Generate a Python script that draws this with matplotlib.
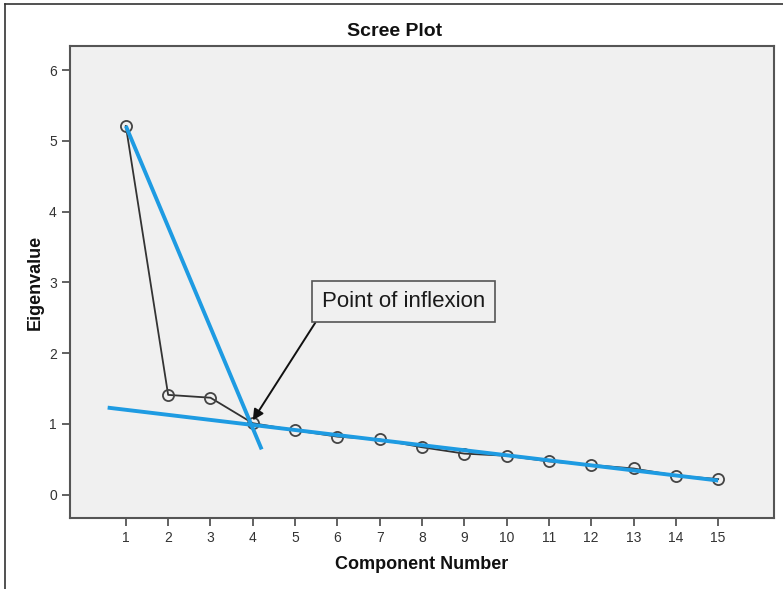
import matplotlib
matplotlib.use("Agg")
import matplotlib.pyplot as plt
from matplotlib.lines import Line2D

plt.rcParams['font.family'] = ['Liberation Sans', 'DejaVu Sans']

components = list(range(1, 16))
eigenvalues = [5.21, 1.41, 1.37, 1.01, 0.91, 0.82, 0.78, 0.67, 0.58, 0.55, 0.47, 0.42, 0.37, 0.27, 0.22]

# the two hand-drawn blue guide lines
steep_x = [1, 4.21]
steep_y = [5.21, 0.64]
flat_x = [0.57, 15]
flat_y = [1.23, 0.20]

blue = '#1e9be2'

fig = plt.figure(figsize=(7.83, 5.89), dpi=100)
ax = fig.add_axes([0.0894, 0.1205, 0.8991, 0.8014])
ax.set_facecolor('#f0f0f0')

ax.plot(components, eigenvalues, color='#333333', lw=1.3, marker='o', ms=8,
        mfc='none', mec='#444444', mew=1.3, zorder=3)
ax.plot(steep_x, steep_y, color=blue, lw=2.8, zorder=4, solid_capstyle='butt')
ax.plot(flat_x, flat_y, color=blue, lw=2.8, zorder=4, solid_capstyle='butt')

ax.annotate('Point of inflexion', xy=(4.0, 1.05), xytext=(5.64, 2.73),
            fontsize=16, color='#1a1a1a', ha='left', va='center',
            bbox=dict(boxstyle='square,pad=0.45', fc='#f0f0f0', ec='#555555', lw=1.2),
            arrowprops=dict(arrowstyle='-|>', color='#111111', lw=1.4,
                            mutation_scale=16, relpos=(0, 0), shrinkA=0, shrinkB=0),
            zorder=5)

ax.set_xlim(-0.32, 16.32)
ax.set_ylim(-0.33, 6.34)
ax.set_xticks(components)
ax.set_yticks(range(0, 7))
ax.tick_params(axis='both', direction='out', length=6, width=1.3, color='#555555',
               labelcolor='#333333', labelsize=10)
for s in ax.spines.values():
    s.set_color('#555555')
    s.set_linewidth(1.5)

fig.text(395 / 783, 1 - 31 / 589, 'Scree Plot', fontsize=14, fontweight='bold',
         ha='center', va='center', color='#111111')
ax.set_xlabel('Component Number', fontsize=13, fontweight='bold', labelpad=8, color='#111111')
ax.set_ylabel('Eigenvalue', fontsize=13, fontweight='bold', labelpad=4, color='#111111')

# outer frame (top and left edges)
fig.add_artist(Line2D([5 / 783, 1], [1 - 4 / 589, 1 - 4 / 589], color='#333333', lw=1.2))
fig.add_artist(Line2D([5 / 783, 5 / 783], [0, 1 - 4 / 589], color='#333333', lw=1.2))

fig.savefig('out.png', dpi=100, facecolor='white')
